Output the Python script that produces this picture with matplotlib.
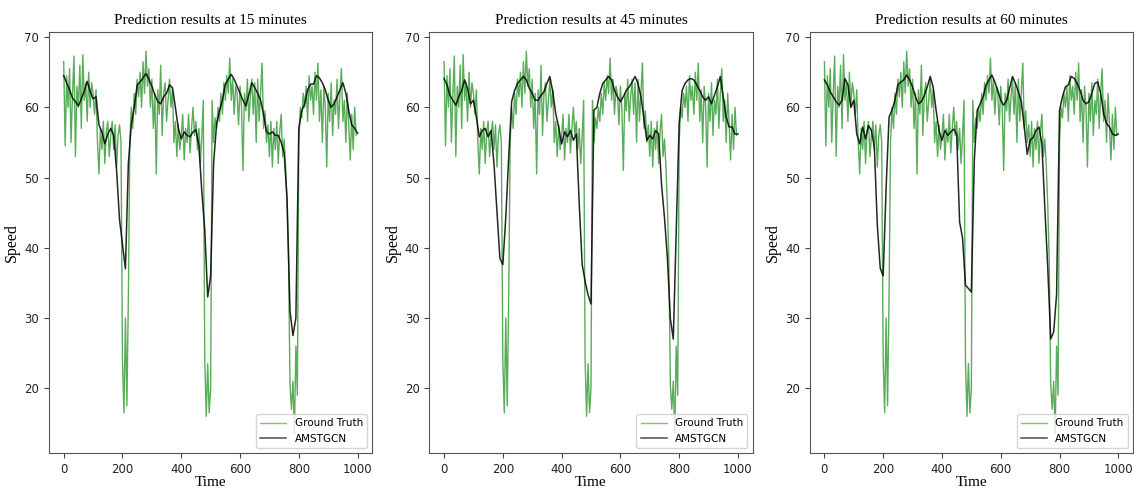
import numpy as np
import matplotlib
matplotlib.use("Agg")
import matplotlib.pyplot as plt

# ground truth speed, one value every 5 time steps (t = 0 .. 995)
ground_truth = [
    66.5, 54.5, 64.5, 60, 65.5, 55, 62, 67.3, 53, 63,
    60, 66, 57, 67.5, 61, 63.5, 58, 65, 60, 63.5,
    62, 59, 62.5, 55, 50.5, 57, 54, 58, 52, 56.5,
    58, 53, 56, 58, 54, 57.5, 51.5, 56, 57.5, 55,
    24, 16.5, 30, 17.5, 33, 55, 60, 57, 62, 59,
    64, 61.5, 65, 60, 66.5, 62, 68, 63, 65.5, 60,
    64, 57, 62, 50.5, 62.5, 59, 66, 56, 62, 63.5,
    58, 61, 64, 60, 62.5, 55, 58, 53, 57.5, 54,
    56, 59, 52.5, 57, 55, 59, 53.5, 57, 60, 56,
    58, 54, 57, 52, 56, 61, 24, 16, 23.5, 16.5,
    20, 61, 55, 58.5, 57, 60, 58, 62, 59, 63.5,
    61, 64.5, 62, 67, 61, 64, 59, 63, 62, 57.5,
    63, 60, 51, 62, 59.5, 64, 58, 61.5, 64, 59,
    63.5, 55, 64, 58, 62, 66.3, 57, 59.5, 55, 57.5,
    53, 58, 51.5, 57, 54, 58, 52, 56.5, 59, 53,
    55.5, 51.5, 46, 38, 20.5, 17, 21, 13.5, 26, 19,
    55, 60, 58.5, 62, 60, 63, 58, 64.5, 61, 63,
    59, 65, 61, 66.3, 58, 62.5, 55, 63, 60, 51.5,
    62, 58, 63.5, 56, 61, 59, 64, 57, 62, 65.5,
    58, 61, 55, 62, 57.5, 52.5, 59, 54, 60, 56,
]

# AMSTGCN predictions, one value every 10 time steps (t = 0 .. 1000)
pred_15 = [
    64.5, 63.5, 62.5, 61.3, 60.8, 60.2, 61.2, 62.3, 63.7, 62.3,
    61.2, 61.5, 57.5, 56.5, 54.8, 56.2, 57, 56, 51, 44,
    40.5, 37, 52, 57.5, 60, 63.2, 63.6, 64.2, 64.8, 64,
    63, 61.8, 60.8, 60.5, 61.5, 62, 63.2, 62.8, 60, 57,
    55.5, 56.5, 56, 55.8, 56.5, 56.8, 54.5, 48, 42.5, 33,
    36, 52, 57.5, 59.5, 61, 63.3, 64, 64.7, 64, 63,
    62, 61, 60.2, 61.8, 63.5, 62.8, 62, 61, 59, 56.5,
    56.2, 56.5, 56, 56, 55, 53.5, 47, 31, 27.5, 30,
    57, 59.5, 60.5, 62.5, 63.3, 63.3, 64.5, 64.2, 63.5, 62.5,
    61, 60, 60.5, 61.5, 62.5, 63.5, 62, 59.5, 57.5, 57,
    56.3,
]

pred_45 = [
    64.1, 63.2, 61.7, 61, 60.3, 61.5, 62.4, 63.9, 62.7, 60.5,
    61, 58.6, 55.8, 56.7, 57, 55.8, 56.7, 51.9, 45.2, 38.5,
    37.6, 44.3, 52.9, 60.8, 62.4, 63.4, 63.9, 64.4, 63.9, 62.7,
    62, 61, 61, 61.7, 62.2, 63.4, 64.4, 62.2, 59.1, 57.2,
    54.8, 56.5, 55.8, 56.7, 55.3, 56.2, 46.2, 37.6, 35.2, 33.3,
    32, 59.6, 60, 62, 63.4, 63.9, 64.4, 63.9, 62.4, 61.5,
    60.8, 61.5, 62.4, 62.9, 63.6, 64.4, 63.4, 61.5, 58.4, 55.3,
    56, 55.5, 56.7, 56.2, 49, 44.3, 38.5, 29.9, 27, 42.4,
    57.7, 62.4, 63.4, 63.9, 64.1, 63.9, 63.2, 62.4, 61.5, 61,
    61.5, 60.5, 61.7, 62.9, 64.4, 61.5, 58.6, 57.2, 57.2, 56.2,
    56.2,
]

pred_60 = [
    63.9, 63.2, 62.2, 61.5, 60.8, 60.3, 61, 64.1, 63.2, 60,
    61, 56.2, 54.8, 57.2, 55.5, 57.4, 56.7, 54.3, 43.3, 37.1,
    36, 48.6, 58.6, 59.6, 61, 63.2, 63.6, 63.9, 64.6, 63.9,
    62.9, 61.5, 60.5, 60.8, 61.7, 62.9, 64.4, 62.9, 59.6, 56.7,
    55.3, 56.7, 56, 56.5, 56.9, 56.2, 43.7, 41.4, 34.7, 34.2,
    33.7, 52.4, 59.6, 60.5, 61.5, 63.2, 63.9, 64.6, 63.6, 62.4,
    61, 60.3, 61, 62.7, 64.4, 63.4, 62.2, 60.8, 57.2, 53.3,
    55.3, 55.7, 56.7, 57.2, 54.8, 45.7, 37.1, 27, 28, 33.3,
    59.6, 61.5, 62.9, 63.2, 64.4, 64.1, 63.4, 62.4, 61, 60.5,
    60.8, 62, 63.4, 63.6, 62, 59.1, 57.7, 57.2, 56.2, 56,
    56.2,
]

horizons = [15, 45, 60]
predictions = [pred_15, pred_45, pred_60]

gt_time = np.arange(len(ground_truth)) * 5
pred_time = np.arange(len(pred_15)) * 10

serif = "Liberation Serif"

fig, axes = plt.subplots(1, 3, figsize=(11.34, 4.9), dpi=100)
fig.subplots_adjust(left=49/1134, right=1133/1134, bottom=37/490, top=458/490, wspace=57/323)

for ax, h, pred in zip(axes, horizons, predictions):
    ax.plot(gt_time, ground_truth, color="green", alpha=0.65, linewidth=1.0, label="Ground Truth")
    ax.plot(pred_time, pred, color="black", alpha=0.85, linewidth=1.1, label="AMSTGCN")
    ax.set_title("Prediction results at %d minutes" % h, fontsize=11, family=serif)
    ax.set_xlabel("Time", fontsize=11, family=serif, labelpad=0)
    ax.set_ylabel("Speed", fontsize=11.5, family=serif, labelpad=3)
    ax.set_xticks([0, 200, 400, 600, 800, 1000])
    ax.set_yticks([20, 30, 40, 50, 60, 70])
    ax.tick_params(labelsize=8.5, color="#444444", labelcolor="#222222")
    for s in ax.spines.values():
        s.set_color("#555555")
    leg = ax.legend(loc="lower right", fontsize=7.5, handlelength=2.5)
    leg.get_lines()[0].set_alpha(0.5)
    leg.get_lines()[1].set_alpha(0.7)

plt.savefig("out.png", dpi=100)
